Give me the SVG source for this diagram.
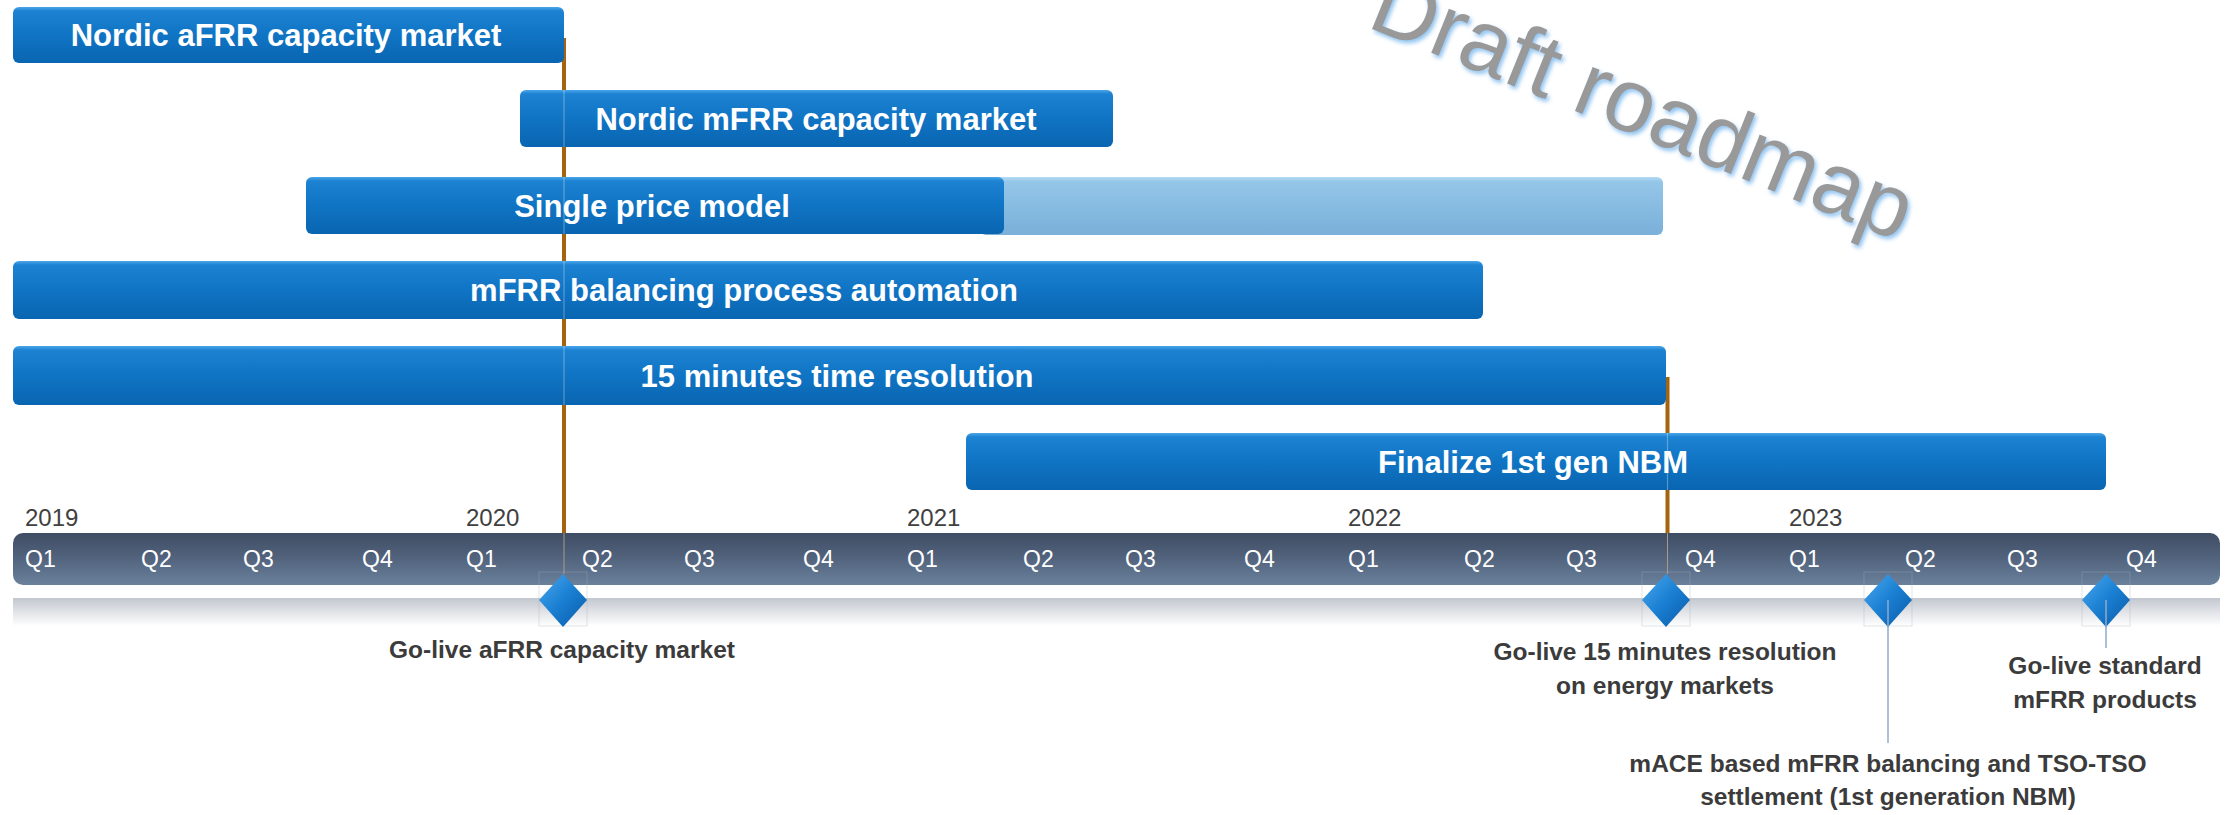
<svg xmlns="http://www.w3.org/2000/svg" width="2234" height="815" viewBox="0 0 2234 815">
<defs>
<linearGradient id="gBar" x1="0" y1="0" x2="0" y2="1">
<stop offset="0" stop-color="#4aa6ea"/>
<stop offset="0.07" stop-color="#1d82d2"/>
<stop offset="0.5" stop-color="#1074c4"/>
<stop offset="1" stop-color="#0965b1"/>
</linearGradient>
<linearGradient id="gLight" x1="0" y1="0" x2="0" y2="1">
<stop offset="0" stop-color="#b4dcf5"/>
<stop offset="0.08" stop-color="#94c6e8"/>
<stop offset="1" stop-color="#79b0d9"/>
</linearGradient>
<linearGradient id="gTime" x1="0" y1="0" x2="0" y2="1">
<stop offset="0" stop-color="#3f4d64"/>
<stop offset="0.5" stop-color="#53647e"/>
<stop offset="1" stop-color="#6a819c"/>
</linearGradient>
<linearGradient id="gRefl" x1="0" y1="0" x2="0" y2="1">
<stop offset="0" stop-color="#c2c7cf"/>
<stop offset="1" stop-color="#ffffff"/>
</linearGradient>
<linearGradient id="gDia" x1="0" y1="0" x2="1" y2="1">
<stop offset="0" stop-color="#4aa8ee"/>
<stop offset="0.5" stop-color="#1a7fd2"/>
<stop offset="1" stop-color="#0a5aa8"/>
</linearGradient>
<filter id="glow" x="-10%" y="-10%" width="120%" height="130%">
<feGaussianBlur in="SourceAlpha" stdDeviation="2"/>
<feOffset dx="2" dy="3" result="b"/>
<feFlood flood-color="#8fc3f0"/>
<feComposite in2="b" operator="in"/>
<feMerge><feMergeNode/><feMergeNode in="SourceGraphic"/></feMerge>
</filter>
<style>
.bar{fill:url(#gBar);}
.light{fill:url(#gLight);}
.bt{font-family:"Liberation Sans",Arial,sans-serif;font-weight:bold;font-size:31px;fill:#ffffff;text-anchor:middle;}
.yr{font-family:"Liberation Sans",Arial,sans-serif;font-size:24px;fill:#404040;}
.q{font-family:"Liberation Sans",Arial,sans-serif;font-size:23px;fill:#ffffff;}
.ml{font-family:"Liberation Sans",Arial,sans-serif;font-weight:bold;font-size:24.5px;fill:#3b3b3b;text-anchor:middle;}
.dia{fill:url(#gDia);}
.sel{fill:none;stroke:#a6aebb;stroke-width:1;opacity:0.35;}
.brown{stroke:#a3630f;stroke-width:4;fill:none;}
.thin{stroke:#a89a88;stroke-width:1;fill:none;}
.hl{stroke:#ffffff;stroke-width:1.2;opacity:0.3;fill:none;}
.stem{stroke:#90aacd;stroke-width:1.5;fill:none;}
</style>
</defs>
<rect width="2234" height="815" fill="#ffffff"/>

<g id="watermark" filter="url(#glow)">
<text x="0" y="0" transform="translate(1632,134) rotate(22)" font-family="Liberation Sans,Arial,sans-serif" font-size="90" fill="#999999" text-anchor="middle">Draft roadmap</text>
</g>

<g id="timeline">
<rect x="13" y="598" width="2207" height="28" fill="url(#gRefl)"/>
<rect x="13" y="533" width="2207" height="52" rx="10" fill="url(#gTime)"/>
<text class="yr" x="25" y="526">2019</text>
<text class="yr" x="466" y="526">2020</text>
<text class="yr" x="907" y="526">2021</text>
<text class="yr" x="1348" y="526">2022</text>
<text class="yr" x="1789" y="526">2023</text>
<text class="q" x="25" y="567">Q1</text><text class="q" x="141" y="567">Q2</text><text class="q" x="243" y="567">Q3</text><text class="q" x="362" y="567">Q4</text>
<text class="q" x="466" y="567">Q1</text><text class="q" x="582" y="567">Q2</text><text class="q" x="684" y="567">Q3</text><text class="q" x="803" y="567">Q4</text>
<text class="q" x="907" y="567">Q1</text><text class="q" x="1023" y="567">Q2</text><text class="q" x="1125" y="567">Q3</text><text class="q" x="1244" y="567">Q4</text>
<text class="q" x="1348" y="567">Q1</text><text class="q" x="1464" y="567">Q2</text><text class="q" x="1566" y="567">Q3</text><text class="q" x="1685" y="567">Q4</text>
<text class="q" x="1789" y="567">Q1</text><text class="q" x="1905" y="567">Q2</text><text class="q" x="2007" y="567">Q3</text><text class="q" x="2126" y="567">Q4</text>
</g>

<g id="connectors">
<line class="brown" x1="564" y1="38" x2="564" y2="533"/>
<line class="thin" x1="564" y1="533" x2="564" y2="574"/>
<line class="brown" x1="1667.5" y1="377" x2="1667.5" y2="533"/>
<line class="thin" x1="1667.5" y1="533" x2="1667.5" y2="574"/>
<line class="stem" x1="1888" y1="600" x2="1888" y2="743"/>
<line class="stem" x1="2106" y1="600" x2="2106" y2="648"/>
</g>

<g id="bar-afrr-capacity">
<rect class="bar" x="13" y="7" width="551" height="56" rx="6"/>
<text class="bt" x="286" y="46">Nordic aFRR capacity market</text>
</g>
<g id="bar-mfrr-capacity">
<rect class="bar" x="520" y="90" width="593" height="57" rx="6"/>
<text class="bt" x="816" y="129.5">Nordic mFRR capacity market</text>
</g>
<g id="bar-single-price">
<rect class="light" x="980" y="177" width="683" height="58" rx="6"/>
<rect class="bar" x="306" y="177" width="698" height="57" rx="6"/>
<text class="bt" x="652" y="216.5">Single price model</text>
</g>
<g id="bar-mfrr-automation">
<rect class="bar" x="13" y="261" width="1470" height="58" rx="6"/>
<text class="bt" x="744" y="301">mFRR balancing process automation</text>
</g>
<g id="bar-15min">
<rect class="bar" x="13" y="346" width="1653" height="59" rx="6"/>
<text class="bt" x="837" y="386.5">15 minutes time resolution</text>
</g>
<g id="bar-nbm">
<rect class="bar" x="966" y="433" width="1140" height="57" rx="6"/>
<text class="bt" x="1533" y="472.5">Finalize 1st gen NBM</text>
</g>

<g id="connector-highlights">
<line class="hl" x1="564" y1="90" x2="564" y2="147"/>
<line class="hl" x1="564" y1="177" x2="564" y2="234"/>
<line class="hl" x1="564" y1="261" x2="564" y2="319"/>
<line class="hl" x1="564" y1="346" x2="564" y2="405"/>
<line class="hl" x1="1667.5" y1="433" x2="1667.5" y2="490"/>
</g>

<g id="milestone-afrr">
<rect class="sel" x="539" y="572" width="48" height="54"/>
<polygon class="dia" points="563,574 587,600 563,627 539,600"/>
<text class="ml" x="562" y="658">Go-live aFRR capacity market</text>
</g>
<g id="milestone-15min">
<rect class="sel" x="1642" y="572" width="48" height="54"/>
<polygon class="dia" points="1666,574 1690,600 1666,627 1642,600"/>
<text class="ml" x="1665" y="660">Go-live 15 minutes resolution</text>
<text class="ml" x="1665" y="694">on energy markets</text>
</g>
<g id="milestone-mace">
<rect class="sel" x="1864" y="572" width="48" height="54"/>
<polygon class="dia" points="1888,574 1912,600 1888,627 1864,600"/>
<line class="stem" x1="1888" y1="600" x2="1888" y2="627"/>
<text class="ml" x="1888" y="772">mACE based mFRR balancing and TSO-TSO</text>
<text class="ml" x="1888" y="805">settlement (1st generation NBM)</text>
</g>
<g id="milestone-standard">
<rect class="sel" x="2082" y="572" width="48" height="54"/>
<polygon class="dia" points="2106,574 2130,600 2106,627 2082,600"/>
<line class="stem" x1="2106" y1="600" x2="2106" y2="627"/>
<text class="ml" x="2105" y="674">Go-live standard</text>
<text class="ml" x="2105" y="708">mFRR products</text>
</g>
</svg>
